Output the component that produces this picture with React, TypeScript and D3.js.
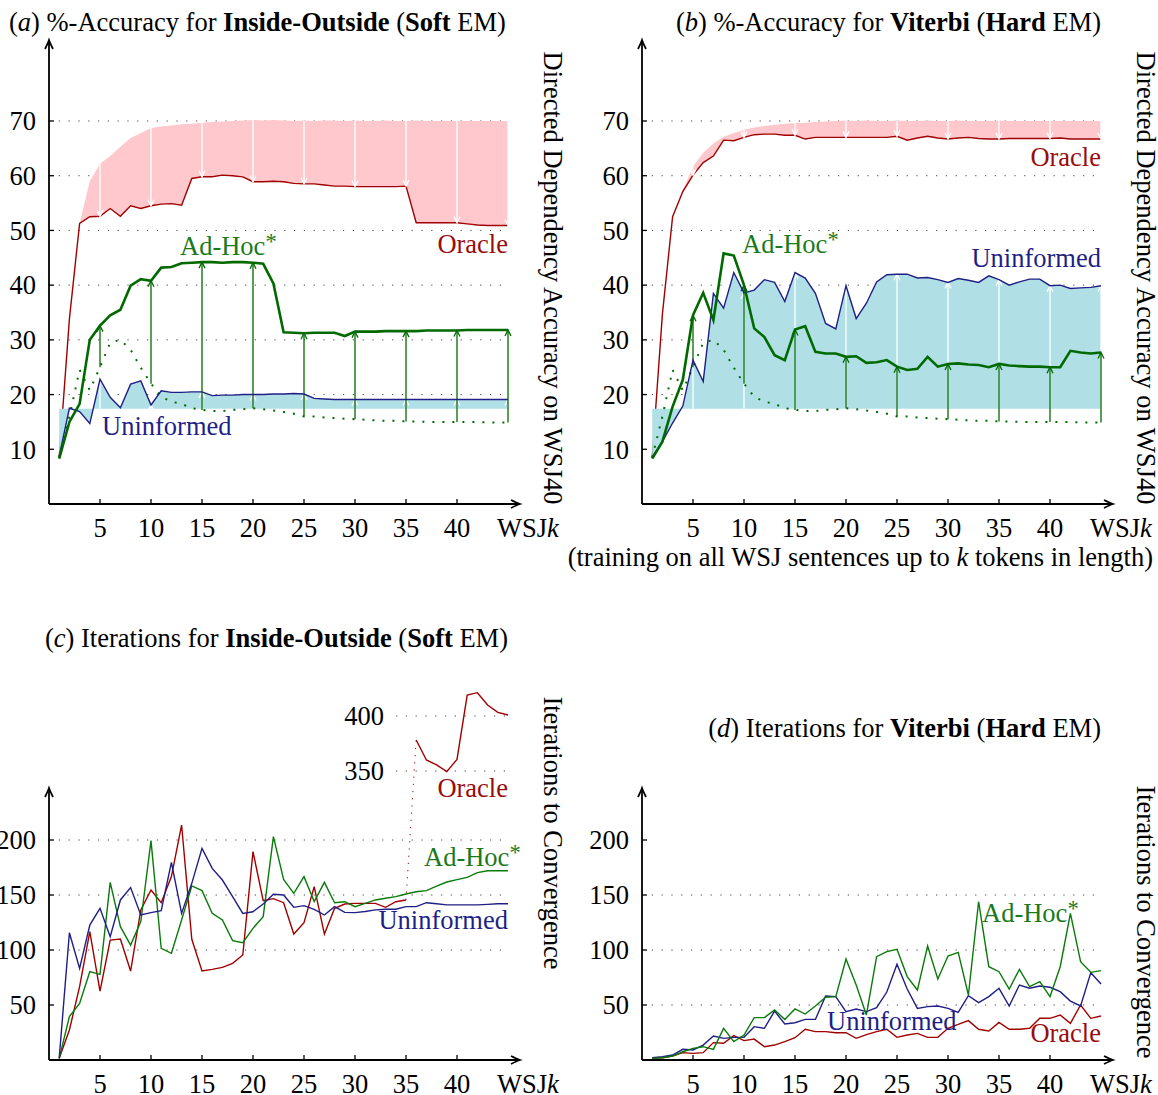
import * as d3 from 'd3'

// WSJk training cut-offs
const wsjK = [1, 2, 3, 4, 5, 6, 7, 8, 9, 10, 11, 12, 13, 14, 15, 16, 17, 18, 19, 20, 21, 22, 23, 24, 25, 26, 27, 28, 29, 30, 31, 32, 33, 34, 35, 36, 37, 38, 39, 40, 41, 42, 43, 44, 45]
const arrowKs = [5, 10, 15, 20, 25, 30, 35, 40, 45]
const xTicks = [5, 10, 15, 20, 25, 30, 35, 40]
const accTicks = [10, 20, 30, 40, 50, 60, 70]
const accGrid = [20, 30, 40, 50, 60, 70]
const iterTicks = [50, 100, 150, 200]
const iterGridC = [100, 150, 200]
const iterGridD = [50, 100, 150]
const iterUpperTicks = [350, 400]

// accuracy of the uninformed initializer (flat, same for every k)
const uninformedInitAcc = 17.4
// accuracy of the ad-hoc initializer (dotted)
const adHocInitAcc = [8.5, 16, 24.5, 20.8, 25, 29.5, 30, 28.2, 24.9, 22, 19.6, 18.7, 18.3, 17.5, 17.2, 17, 17, 17.2, 17.3, 17.5, 17.3, 17.1, 16.8, 16.5, 16, 16, 15.8, 15.7, 15.6, 15.5, 15.4, 15.3, 15.2, 15.2, 15.1, 15.1, 15, 15, 15, 15, 15, 15, 14.9, 14.9, 14.9]

// (a) Inside-Outside accuracy
const oracleInitA = [8.5, 33.8, 51.3, 59, 62.2, 63.6, 65.3, 66.9, 67.8, 68.7, 69, 69.2, 69.4, 69.5, 69.7, 69.8, 69.9, 70, 70.1, 70.2, 70.1, 70.2, 70.1, 70, 70.1, 70, 70.1, 70.1, 70, 70.1, 70, 70, 70.1, 70, 70, 70.1, 70, 70, 70, 70, 70, 70, 70, 70, 70]
const oracleAccA = [8.5, 33.8, 51.3, 52.5, 52.6, 54, 52.6, 54.5, 54, 54.5, 54.8, 54.9, 54.6, 59.5, 59.8, 59.8, 60.1, 60, 59.8, 58.9, 58.9, 59, 58.9, 58.6, 58.5, 58.5, 58.3, 58.1, 58.1, 58, 58, 58, 58, 58, 58.1, 51.4, 51.4, 51.4, 51.4, 51.4, 51.2, 51, 50.9, 50.9, 50.9]
const adHocAccA = [8.3, 15, 18.3, 30, 32.6, 34.5, 35.5, 39.9, 41.1, 40.8, 43.2, 43.3, 44, 44.1, 44.2, 44.2, 44.1, 44.2, 44.2, 44.1, 43.9, 40.3, 31.4, 31.3, 31.2, 31.3, 31.3, 31.3, 30.7, 31.5, 31.5, 31.5, 31.6, 31.6, 31.6, 31.6, 31.7, 31.7, 31.7, 31.7, 31.8, 31.8, 31.8, 31.8, 31.8]
const uninformedAccA = [8.7, 17.5, 16.9, 14.7, 22.8, 19.5, 17.6, 21.9, 22.5, 18.1, 20.7, 20.4, 20.4, 20.5, 20.5, 19.8, 19.9, 19.9, 20, 20, 20, 20.1, 20.1, 20.2, 20.1, 19.3, 19.2, 19.1, 19.1, 19.1, 19.1, 19.1, 19.1, 19.1, 19.1, 19.1, 19.1, 19.1, 19.1, 19.1, 19.1, 19.1, 19.1, 19.1, 19.1]

// (b) Viterbi accuracy
const oracleInitB = [8.5, 34.7, 52.5, 57.4, 61.7, 64.2, 65.9, 67.1, 67.8, 68.4, 68.8, 69.1, 69.3, 69.5, 69.6, 69.7, 69.8, 69.9, 70, 70.1, 70, 70.1, 70, 70, 70.1, 70, 70, 70.1, 70, 70, 70.1, 70, 70, 70, 70.1, 70, 70, 70, 70, 70, 70, 70, 70, 70, 70]
const oracleAccB = [8.5, 34.7, 52.5, 57.1, 60.1, 62.4, 63.6, 66.5, 66.4, 67, 67.5, 67.6, 67.6, 67.4, 67.4, 66.7, 67, 67, 67, 67, 67, 67, 67, 67, 67.2, 66.5, 66.9, 67.2, 66.9, 66.7, 66.9, 67, 66.8, 66.7, 66.7, 66.8, 66.8, 66.8, 66.8, 66.8, 66.9, 66.7, 66.7, 66.7, 66.7]
const adHocAccB = [8.3, 11.4, 17.8, 22.7, 34.5, 38.6, 33.6, 45.8, 45.4, 40, 32.1, 30.5, 27.2, 26.3, 31.9, 32.5, 27.8, 27.5, 27.5, 26.9, 27, 25.8, 25.9, 26.3, 25.1, 24.5, 24.7, 26.9, 25.1, 25.6, 25.7, 25.5, 25.4, 25, 25.6, 25.3, 25.2, 25.1, 25.1, 25, 25, 28, 27.7, 27.5, 27.7]
const uninformedAccB = [8.6, 11.4, 14.8, 17.9, 26.3, 22.4, 38.5, 35.8, 42.3, 38.6, 39.1, 41, 40.5, 37, 42.3, 41.3, 38.5, 33, 32, 39.9, 33.9, 36.7, 40.6, 41.9, 42, 42, 41.3, 41.4, 41, 40.5, 41.2, 40.9, 40.5, 41.7, 41, 40, 40.6, 41.1, 41.1, 39.9, 40, 39.4, 39.5, 39.6, 39.9]

// (c) Inside-Outside iterations
const oracleItersC = [1.5, 27.3, 66.7, 116.7, 62.7, 109, 110, 80.9, 136.4, 154.5, 143, 166.7, 213.6, 109.7, 80.9, 82.4, 84.2, 87.9, 95.5, 189.4, 144.8, 146.7, 143, 114.5, 124.8, 157.6, 114.5, 137.9, 141.8, 142.4, 142.4, 142.4, 138.8, 143.9, 145.5, 378.2, 360, 355.5, 349.4, 360.6, 419, 421.2, 410, 403.3, 400.9]
const uninformedItersC = [1.5, 115.7, 83.3, 122.7, 137.9, 112, 145.5, 156.7, 131.8, 134, 135.8, 179.7, 133.3, 160.6, 192.4, 174.2, 163.6, 148.5, 133.3, 134.8, 141.8, 150.6, 150, 138.8, 140.3, 137, 131.8, 139.4, 134.2, 134, 135, 136.5, 137, 137, 139.4, 139.4, 143, 142, 141, 141, 141, 141, 141.5, 142, 142]
const adHocItersC = [1.5, 39.4, 51.5, 80.3, 77.9, 161.5, 121.2, 104.5, 125.8, 199.4, 101.5, 97, 127.3, 158.2, 154, 133.3, 127.3, 108.5, 106.7, 119.7, 130.3, 203, 164.2, 151.5, 166.7, 144, 161.5, 143, 143.9, 139.4, 142.4, 145.5, 147, 148.5, 150.9, 153, 154, 158, 161.8, 164, 166, 170.3, 172, 172, 172]
const iterBreak = 300

// (d) Viterbi iterations
const oracleItersD = [1.5, 2, 3.6, 6.7, 6, 6.7, 15.8, 15.2, 22.1, 17.6, 19, 12.1, 13.6, 16.7, 20.3, 27.9, 25.8, 25.8, 24.8, 24.8, 19.7, 23, 25.8, 27.9, 20.6, 22.7, 24.2, 20.6, 20.6, 28.8, 32.4, 35.8, 27.9, 26.4, 34.2, 27.9, 27.9, 28.8, 37.9, 37.9, 40.9, 33.3, 50, 37.9, 40]
const uninformedItersD = [2, 3, 4.5, 9.7, 9.1, 13.6, 21.8, 19.7, 20.6, 20.6, 30.3, 28.8, 44.5, 32.7, 33.9, 36.9, 36.9, 58.2, 57.6, 43.9, 46.4, 44, 47.6, 61.8, 87, 64.5, 46.9, 48.5, 49.1, 47, 43.3, 58.5, 52.1, 57.6, 65.2, 49.1, 68.2, 65.2, 67.3, 66.1, 62.1, 53.6, 49.1, 79.4, 69.1]
const adHocItersD = [1.5, 2, 3.6, 7.5, 10.6, 12.1, 9.7, 28.8, 16.7, 22.7, 38.5, 38.5, 45.5, 36.9, 46.4, 41.8, 49.1, 57, 57.6, 91.8, 68.2, 41, 93.9, 98.5, 100.6, 75.8, 63.6, 103.6, 73.6, 94.5, 97.9, 59.1, 143.9, 84.8, 80.3, 64.5, 82.4, 66.7, 71.2, 57.6, 84.8, 133.3, 89.4, 79.7, 81.2]

const FONT = "'Liberation Serif', 'Times New Roman', serif"
const FS = 26.5
const RED = '#a00000'
const RED_TEXT = '#9a0d0d'
const BLUE = '#1f1f85'
const GREEN = '#006a00'
const GREEN_THIN = '#0a7a0a'
const GREEN_TEXT = '#1a7a1a'
const PINK = '#ffc8cc'
const CYAN = '#b0e0e6'

const xLeft = d3.scaleLinear().domain([0, 45]).range([49, 508])
const xRight = d3.scaleLinear().domain([0, 45]).range([642, 1101])
const accY = d3.scaleLinear().domain([0, 70]).range([504, 121])
const iterY = d3.scaleLinear().domain([0, 200]).range([1060, 840])
const iterUpperY = d3.scaleLinear().domain([350, 400]).range([771, 716])

const idx = wsjK.map((_, i) => i)

function chevron(cx: number, fromY: number, tipY: number, len = 6, half = 3) {
  const dir = tipY < fromY ? -1 : 1
  return `M${cx - half},${tipY - dir * len} L${cx},${tipY} L${cx + half},${tipY - dir * len}`
}

function Arrow({ cx, y0, y1, color }: { cx: number; y0: number; y1: number; color: string }) {
  return (
    <g stroke={color} strokeWidth={1.3} fill="none">
      <line x1={cx} x2={cx} y1={y0} y2={y1} />
      <path d={chevron(cx, y0, y1)} />
    </g>
  )
}

function Frame({ x, yBase, yTop, yScale, ticks, grid, gridEnd }: {
  x: d3.ScaleLinear<number, number>; yBase: number; yTop: number
  yScale: d3.ScaleLinear<number, number>; ticks: number[]; grid: number[]; gridEnd: number
}) {
  const x0 = x(0)
  const xEnd = x(45) + 12
  return (
    <g>
      {grid.map((v) => (
        <line key={'g' + v} x1={x0} x2={gridEnd} y1={yScale(v)} y2={yScale(v)} stroke="#444" strokeWidth={1} strokeDasharray="1.2,8.6" />
      ))}
      <g stroke="#000" strokeWidth={1.8} fill="none">
        <line x1={x0} x2={x0} y1={yBase} y2={yTop} />
        <line x1={x0} x2={xEnd} y1={yBase} y2={yBase} />
        <path d={`M${x0 - 4},${yTop + 9} Q${x0 - 1},${yTop + 3} ${x0},${yTop} Q${x0 + 1},${yTop + 3} ${x0 + 4},${yTop + 9}`} />
        <path d={`M${xEnd - 9},${yBase - 4} Q${xEnd - 3},${yBase - 1} ${xEnd},${yBase} Q${xEnd - 3},${yBase + 1} ${xEnd - 9},${yBase + 4}`} />
        {ticks.map((v) => (
          <line key={'yt' + v} x1={x0} x2={x0 + 5} y1={yScale(v)} y2={yScale(v)} strokeWidth={1.3} />
        ))}
        {xTicks.map((k) => (
          <line key={'xt' + k} x1={x(k)} x2={x(k)} y1={yBase} y2={yBase - 5} strokeWidth={1.3} />
        ))}
      </g>
      <g fontFamily={FONT} fontSize={FS} fill="#000">
        {ticks.map((v) => (
          <text key={'yl' + v} x={x0 - 13} y={yScale(v)} dy="0.35em" textAnchor="end">{v}</text>
        ))}
        {xTicks.map((k) => (
          <text key={'xl' + k} x={x(k)} y={yBase + 33} textAnchor="middle">{k}</text>
        ))}
        <text x={x(45) - 11} y={yBase + 33}>WSJ<tspan fontStyle="italic">k</tspan></text>
      </g>
    </g>
  )
}

function AccuracyPanel({ x, oracleInit, oracle, adHoc, uninformed }: {
  x: d3.ScaleLinear<number, number>; oracleInit: number[]; oracle: number[]; adHoc: number[]; uninformed: number[]
}) {
  const px = (i: number) => x(wsjK[i])
  const pink = d3.area<number>().x(px).y0((i) => accY(oracle[i])).y1((i) => accY(oracleInit[i]))(idx) ?? ''
  const cyan = d3.area<number>().x(px).y0(accY(uninformedInitAcc)).y1((i) => accY(uninformed[i]))(idx) ?? ''
  const line = (vals: number[]) => d3.line<number>().x(px).y((i) => accY(vals[i]))(idx) ?? ''
  const at = (k: number) => wsjK.indexOf(k)
  return (
    <g>
      <Frame x={x} yBase={504} yTop={40} yScale={accY} ticks={accTicks} grid={accGrid} gridEnd={x(45)} />
      <path d={pink} fill={PINK} />
      <path d={line(oracle)} fill="none" stroke={RED} strokeWidth={1.4} />
      <path d={cyan} fill={CYAN} />
      {arrowKs.map((k) => (
        <Arrow key={'wp' + k} cx={x(k)} y0={accY(oracleInit[at(k)])} y1={accY(oracle[at(k)])} color="#fff" />
      ))}
      {arrowKs.filter((k) => uninformed[at(k)] > uninformedInitAcc + 0.4).map((k) => (
        <Arrow key={'wc' + k} cx={x(k)} y0={accY(uninformedInitAcc)} y1={accY(uninformed[at(k)])} color="#fff" />
      ))}
      <path d={line(adHocInitAcc)} fill="none" stroke={GREEN} strokeWidth={2} strokeDasharray="2,8" />
      {arrowKs.map((k) => (
        <Arrow key={'ga' + k} cx={x(k)} y0={accY(adHocInitAcc[at(k)])} y1={accY(adHoc[at(k)])} color={GREEN} />
      ))}
      <path d={line(uninformed)} fill="none" stroke={BLUE} strokeWidth={1.4} />
      <path d={line(adHoc)} fill="none" stroke={GREEN} strokeWidth={2.6} />
    </g>
  )
}

function AdHocLabel({ x, y, anchor = 'start' }: { x: number; y: number; anchor?: string }) {
  return (
    <text x={x} y={y} dy="0.35em" textAnchor={anchor} fill={GREEN_TEXT}>
      Ad-Hoc<tspan fontSize={FS * 0.85} dy={-6}>*</tspan>
    </text>
  )
}

export default function App() {
  const lineC = (vals: number[], keep: (i: number) => boolean, scale: d3.ScaleLinear<number, number>) =>
    d3.line<number>().x((i) => xLeft(wsjK[i])).y((i) => scale(vals[i]))(idx.filter(keep)) ?? ''
  const lowerC = (i: number) => oracleItersC[i] < iterBreak
  const upperC = (i: number) => oracleItersC[i] >= iterBreak
  const lastLow = idx.filter(lowerC).slice(-1)[0]
  const firstHigh = idx.filter(upperC)[0]
  const lineD = (vals: number[]) => d3.line<number>().x((i) => xRight(wsjK[i])).y((i) => iterY(vals[i]))(idx) ?? ''

  return (
    <svg width={1158} height={1095} style={{ position: 'absolute', left: 0, top: 0, background: '#fff' }} fontFamily={FONT}>
      {/* (a) */}
      <AccuracyPanel x={xLeft} oracleInit={oracleInitA} oracle={oracleAccA} adHoc={adHocAccA} uninformed={uninformedAccA} />
      {/* (b) */}
      <AccuracyPanel x={xRight} oracleInit={oracleInitB} oracle={oracleAccB} adHoc={adHocAccB} uninformed={uninformedAccB} />

      {/* (c) */}
      <Frame x={xLeft} yBase={1060} yTop={788} yScale={iterY} ticks={iterTicks} grid={iterGridC} gridEnd={xLeft(45)} />
      {iterUpperTicks.map((v) => (
        <g key={'u' + v}>
          <line x1={396} x2={xLeft(45)} y1={iterUpperY(v)} y2={iterUpperY(v)} stroke="#444" strokeWidth={1} strokeDasharray="1.2,8.6" />
          <text x={384} y={iterUpperY(v)} dy="0.35em" textAnchor="end" fontSize={FS}>{v}</text>
        </g>
      ))}
      <path d={lineC(oracleItersC, lowerC, iterY)} fill="none" stroke={RED} strokeWidth={1.4} />
      <path d={lineC(oracleItersC, upperC, iterUpperY)} fill="none" stroke={RED} strokeWidth={1.4} />
      <line x1={xLeft(wsjK[lastLow])} y1={iterY(oracleItersC[lastLow])} x2={xLeft(wsjK[firstHigh])} y2={iterUpperY(oracleItersC[firstHigh])}
        stroke={RED} strokeWidth={1} strokeDasharray="1.2,6" />
      <path d={lineC(adHocItersC, () => true, iterY)} fill="none" stroke={GREEN_THIN} strokeWidth={1.4} />
      <path d={lineC(uninformedItersC, () => true, iterY)} fill="none" stroke={BLUE} strokeWidth={1.4} />

      {/* (d) */}
      <Frame x={xRight} yBase={1060} yTop={788} yScale={iterY} ticks={iterTicks} grid={iterGridD} gridEnd={xRight(45)} />
      <path d={lineD(oracleItersD)} fill="none" stroke={RED} strokeWidth={1.4} />
      <path d={lineD(uninformedItersD)} fill="none" stroke={BLUE} strokeWidth={1.4} />
      <path d={lineD(adHocItersD)} fill="none" stroke={GREEN_THIN} strokeWidth={1.4} />

      <g fontSize={FS}>
        {/* series labels */}
        <text x={508} y={244} dy="0.35em" textAnchor="end" fill={RED_TEXT}>Oracle</text>
        <AdHocLabel x={180} y={246} />
        <text x={102} y={426} dy="0.35em" fill={BLUE}>Uninformed</text>

        <text x={1101} y={157} dy="0.35em" textAnchor="end" fill={RED_TEXT}>Oracle</text>
        <AdHocLabel x={742} y={244} />
        <text x={1101} y={258} dy="0.35em" textAnchor="end" fill={BLUE}>Uninformed</text>

        <text x={508} y={788} dy="0.35em" textAnchor="end" fill={RED_TEXT}>Oracle</text>
        <AdHocLabel x={424} y={857} />
        <text x={508} y={920} dy="0.35em" textAnchor="end" fill={BLUE}>Uninformed</text>

        <AdHocLabel x={982} y={913} />
        <text x={827} y={1021} dy="0.35em" fill={BLUE}>Uninformed</text>
        <text x={1101} y={1033} dy="0.35em" textAnchor="end" fill={RED_TEXT}>Oracle</text>

        {/* titles */}
        <text x={9} y={22} dy="0.35em">(<tspan fontStyle="italic">a</tspan>) %-Accuracy for <tspan fontWeight="bold">Inside-Outside</tspan> (<tspan fontWeight="bold">Soft</tspan> EM)</text>
        <text x={1101} y={22} dy="0.35em" textAnchor="end">(<tspan fontStyle="italic">b</tspan>) %-Accuracy for <tspan fontWeight="bold">Viterbi</tspan> (<tspan fontWeight="bold">Hard</tspan> EM)</text>
        <text x={45} y={638} dy="0.35em">(<tspan fontStyle="italic">c</tspan>) Iterations for <tspan fontWeight="bold">Inside-Outside</tspan> (<tspan fontWeight="bold">Soft</tspan> EM)</text>
        <text x={1101} y={728} dy="0.35em" textAnchor="end">(<tspan fontStyle="italic">d</tspan>) Iterations for <tspan fontWeight="bold">Viterbi</tspan> (<tspan fontWeight="bold">Hard</tspan> EM)</text>
        <text x={1153} y={557} dy="0.35em" textAnchor="end">(training on all WSJ sentences up to <tspan fontStyle="italic">k</tspan> tokens in length)</text>

        {/* rotated axis titles */}
        <text transform="translate(544,278) rotate(90)" textAnchor="middle">Directed Dependency Accuracy on WSJ40</text>
        <text transform="translate(1137,278) rotate(90)" textAnchor="middle">Directed Dependency Accuracy on WSJ40</text>
        <text transform="translate(544,833) rotate(90)" textAnchor="middle">Iterations to Convergence</text>
        <text transform="translate(1137,922) rotate(90)" textAnchor="middle">Iterations to Convergence</text>
      </g>
    </svg>
  )
}
